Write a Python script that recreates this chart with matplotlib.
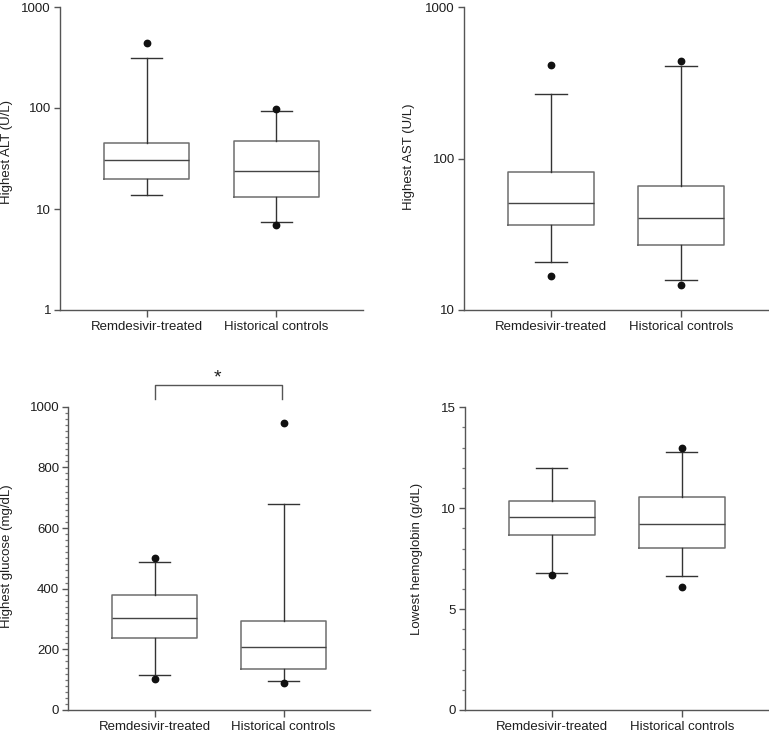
import matplotlib
matplotlib.use("Agg")
import matplotlib.pyplot as plt
from matplotlib.ticker import FixedLocator, MultipleLocator, NullLocator, FuncFormatter

plt.rcParams['font.family'] = ['Liberation Sans', 'DejaVu Sans']

categories = ["Remdesivir-treated", "Historical controls"]

# ALT (U/L)
alt_whislo = [13.8, 7.4]
alt_q1 = [19.7, 13.2]
alt_med = [30.5, 23.8]
alt_q3 = [44.7, 47.4]
alt_whishi = [310, 93]
alt_fliers = [[440], [98, 6.9]]

# AST (U/L)
ast_whislo = [20.7, 15.7]
ast_q1 = [36.2, 26.8]
ast_med = [50.6, 40.6]
ast_q3 = [81, 65.5]
ast_whishi = [268, 406]
ast_fliers = [[412, 16.7], [441, 14.6]]

# Glucose (mg/dL)
glu_whislo = [115, 97]
glu_q1 = [236, 134]
glu_med = [302, 209]
glu_q3 = [378, 294]
glu_whishi = [487, 678]
glu_fliers = [[500, 102], [945, 89]]

# Hemoglobin (g/dL)
hgb_whislo = [6.77, 6.62]
hgb_q1 = [8.69, 8.03]
hgb_med = [9.58, 9.20]
hgb_q3 = [10.37, 10.57]
hgb_whishi = [12.0, 12.77]
hgb_fliers = [[6.67], [13.0, 6.08]]

W, H = 769, 732
fig = plt.figure(figsize=(W / 100, H / 100), dpi=100)


def px_axes(l, r, t, b):
    return fig.add_axes([l / W, 1 - b / H, (r - l) / W, (b - t) / H])


TXT = '#1e1e1e'
SPC = '#555555'


def stats(whislo, q1, med, q3, whishi, fliers):
    out = []
    for i, lab in enumerate(categories):
        out.append(dict(label=lab, whislo=whislo[i], q1=q1[i], med=med[i],
                        q3=q3[i], whishi=whishi[i], fliers=fliers[i]))
    return out


def draw(ax, st, ylabel, label_x, label_y=0.5):
    ax.bxp(st, positions=[1, 2], widths=0.66, capwidths=0.24,
           showfliers=True,
           boxprops=dict(color='#6e6e6e', linewidth=1.1),
           whiskerprops=dict(color='#333333', linewidth=1.0),
           capprops=dict(color='#333333', linewidth=1.0),
           medianprops=dict(color='#444444', linewidth=1.0),
           flierprops=dict(marker='o', markerfacecolor='#111111',
                           markeredgecolor='#111111', markersize=4.6))
    ax.set_xlim(0.33, 2.67)
    for s in ('top', 'right'):
        ax.spines[s].set_visible(False)
    for s in ('left', 'bottom'):
        ax.spines[s].set_color(SPC)
        ax.spines[s].set_linewidth(1.0)
    ax.tick_params(axis='both', which='major', direction='out', length=4.5,
                   width=1.0, color=SPC, labelsize=9.5, labelcolor=TXT, pad=2)
    ax.tick_params(axis='y', which='minor', direction='out', length=2.5,
                   width=0.9, color='#777777')
    ax.tick_params(axis='x', which='major', length=5, pad=3)
    ax.set_xticks([1, 2])
    ax.set_xticklabels(categories)
    ax.set_ylabel(ylabel, fontsize=9.5, color=TXT)
    ax.yaxis.set_label_coords(label_x, label_y)
    ax.set_facecolor('white')


int_fmt = FuncFormatter(lambda v, p: f"{v:g}")

# Panel 1: ALT
ax1 = px_axes(60, 363, 7, 310)
ax1.set_yscale('log')
draw(ax1, stats(alt_whislo, alt_q1, alt_med, alt_q3, alt_whishi, alt_fliers),
     "Highest ALT (U/L)", -0.155, 0.52)
ax1.set_ylim(1, 1000)
ax1.yaxis.set_major_locator(FixedLocator([1, 10, 100, 1000]))
ax1.yaxis.set_major_formatter(int_fmt)
ax1.yaxis.set_minor_locator(NullLocator())

# Panel 2: AST
ax2 = px_axes(464, 768, 7, 310)
ax2.set_yscale('log')
draw(ax2, stats(ast_whislo, ast_q1, ast_med, ast_q3, ast_whishi, ast_fliers),
     "Highest AST (U/L)", -0.162, 0.506)
ax2.set_ylim(10, 1000)
ax2.yaxis.set_major_locator(FixedLocator([10, 100, 1000]))
ax2.yaxis.set_major_formatter(int_fmt)
ax2.yaxis.set_minor_locator(NullLocator())

# Panel 3: Glucose
ax3 = px_axes(68.3, 370, 406.7, 710)
draw(ax3, stats(glu_whislo, glu_q1, glu_med, glu_q3, glu_whishi, glu_fliers),
     "Highest glucose (mg/dL)", -0.182, 0.508)
ax3.set_ylim(0, 1000)
ax3.yaxis.set_major_locator(MultipleLocator(200))
ax3.yaxis.set_minor_locator(MultipleLocator(20))
ax3.yaxis.set_major_formatter(int_fmt)

# significance bracket
br_low, br_high, star_y = 1024, 1072, 1066
ax3.plot([1, 1, 1.99, 1.99], [br_low, br_high, br_high, br_low],
         color='#555555', lw=1.0, clip_on=False)
ax3.text(1.49, star_y, "*", ha='center', va='bottom', fontsize=14, color=TXT,
         clip_on=False)

# Panel 4: Hemoglobin
ax4 = px_axes(464.7, 769, 407.3, 710)
draw(ax4, stats(hgb_whislo, hgb_q1, hgb_med, hgb_q3, hgb_whishi, hgb_fliers),
     "Lowest hemoglobin (g/dL)", -0.136, 0.5)
ax4.set_ylim(0, 15)
ax4.yaxis.set_major_locator(MultipleLocator(5))
ax4.yaxis.set_minor_locator(MultipleLocator(1))
ax4.yaxis.set_major_formatter(int_fmt)

fig.savefig("out.png", dpi=100, facecolor='white')
